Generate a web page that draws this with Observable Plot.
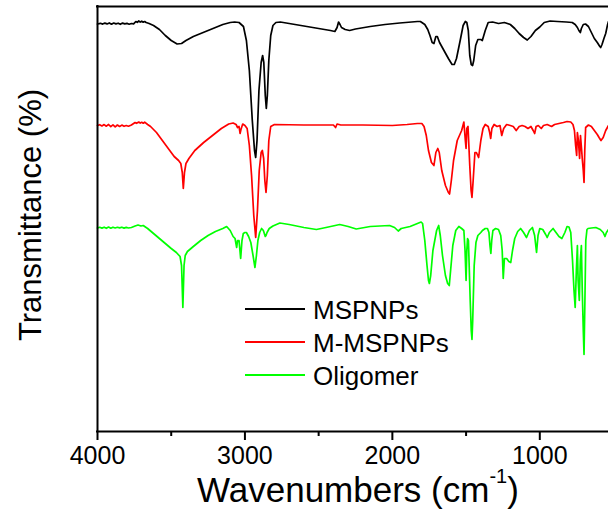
<!DOCTYPE html>
<html><head><meta charset="utf-8">
<script src="https://cdn.jsdelivr.net/npm/d3@7"></script>
<script src="https://cdn.jsdelivr.net/npm/@observablehq/plot@0.6"></script>
<style>body{margin:0;background:#fff}</style>
</head><body><div id="chart"></div>
<script>
// [wavenumber (cm-1), transmittance (a.u., offset spectra)]
const mspnps = [
[4000,407.5],[3980,408.2],[3965,407.4],[3950,408.4],[3935,407.6],[3920,408.6],[3905,407.3],[3890,408.5],[3875,407.6],[3860,408.3],[3845,407.2],[3830,408.4],[3815,407.6],[3800,408.1],[3785,407.3],[3770,408],[3755,407.6],
[3740,410],[3730,409.2],[3720,410.5],[3710,409.4],[3700,410.3],[3690,409.3],[3680,410],[3670,409],[3650,408],[3620,406],[3580,402],[3540,396],[3500,391],[3460,387.5],[3430,388],
[3400,391],[3350,395],[3300,398],[3250,401],[3200,404],[3150,407],[3100,409],[3070,409.5],[3040,409],[3010,405],[2990,391],[2970,361],[2950,311],
[2935,281],[2927,274],[2918,291],[2905,341],[2890,369],[2880,376],[2872,369],[2862,336],[2855,323],[2848,336],[2838,371],[2825,396],[2810,406],
[2790,409],[2760,409.5],[2700,408],[2600,405.5],[2500,403],[2420,401],[2390,400],[2375,404],[2365,409.5],[2355,407],[2345,404],[2320,402],
[2290,401],[2250,402.5],[2150,405],[2050,407],[1950,408.5],[1870,409.5],[1830,410],[1810,410],[1780,407],[1760,402],[1745,396],[1730,389],
[1718,388],[1705,395],[1695,395],[1680,389],[1650,381],[1620,373],[1595,367],[1580,367],[1565,373],[1540,391],[1520,406],[1505,410],[1495,409],
[1485,401],[1475,376],[1465,367],[1456,366],[1448,371],[1435,386],[1420,392],[1400,392],[1390,391],[1370,401],[1350,409],[1320,409.5],[1280,408],
[1240,409],[1200,407],[1170,403],[1140,398],[1110,394],[1085,391.5],[1060,395],[1030,401],[1000,404.5],[970,409],[930,410.5],[880,410],[820,409.5],
[780,409],[760,407],[745,404],[735,401],[725,399],[718,403],[705,407],[690,407.5],[670,405],[650,399],[630,393],[610,389],[595,385.5],[587,384],
[578,387],[565,393],[553,398],[540,407],[534,410]
];
const mMspnps = [
[4000,306],[3985,306.8],[3970,305.6],[3955,306.9],[3940,305.3],[3925,307],[3910,304.8],[3895,306.7],[3880,304.6],[3865,306.5],[3850,305],[3835,306.4],[3820,305.2],[3805,306],[3790,305.3],[3770,306.5],
[3745,309],[3735,308.2],[3720,309.5],[3710,308.4],[3700,309.2],[3690,308.3],[3680,309.3],[3660,307],[3640,305],[3600,299],[3560,291],[3520,283],[3480,275],[3450,271],[3435,268],
[3425,259],[3418,243],[3410,259],[3400,268],[3380,273],[3340,281],[3280,289],[3220,296],[3160,303],[3110,307.5],[3080,308.5],[3060,307],
[3050,304],[3040,305],[3033,298],[3027,302],[3015,307.5],[3000,306],[2985,303],[2970,286],[2955,256],[2940,216],[2927,194],[2915,221],[2903,261],
[2890,279],[2882,281],[2873,273],[2865,251],[2857,239],[2848,256],[2838,291],[2825,305],[2800,307],[2600,306.5],[2400,306.5],[2385,304],
[2375,307.5],[2350,306.5],[2200,306.5],[2000,306],[1900,307],[1830,308],[1800,308],[1785,305],[1770,296],[1755,281],[1735,269],[1718,266],
[1705,279],[1692,283],[1682,279],[1665,261],[1640,246],[1620,239],[1612,237.5],[1600,251],[1585,271],[1560,291],[1530,301],[1515,309.5],
[1505,291],[1500,283],[1495,303],[1487,305],[1475,266],[1466,241],[1460,234],[1452,251],[1440,279],[1430,279],[1415,274],[1400,291],[1385,303],
[1370,307],[1350,305],[1340,299],[1333,293],[1325,303],[1310,307],[1290,305],[1270,306],[1258,296],[1245,303],[1225,307],[1200,306],[1180,305],
[1160,301],[1140,305],[1120,306],[1100,305],[1080,303],[1060,305],[1045,301],[1035,298],[1025,305],[1010,306],[990,303],[975,306],[950,307],
[920,305],[900,307],[870,308],[840,309],[815,310],[790,309.5],[775,307],[765,301],[757,286],[750,276],[745,299],[738,291],[730,273],[724,296],
[716,281],[711,271],[705,261],[700,249],[695,281],[689,304],[670,306.5],[650,305],[630,301],[610,297],[598,294],[585,291],[570,294],[553,301],[534,306]
];
const oligomer = [
[4000,203.5],[3985,204.2],[3970,203.4],[3955,204.3],[3940,203.2],[3925,204.4],[3910,203.3],[3895,204.3],[3880,203.5],[3865,204.2],[3850,203.6],[3835,204.3],[3820,203.4],[3805,204.1],[3790,203.5],[3770,204],
[3745,205.5],[3725,206.5],[3705,205.5],[3690,206],[3660,203],[3620,198],[3580,193],[3540,188],[3500,183],[3465,179],[3440,175],[3430,166],
[3421,124],[3413,166],[3405,176],[3390,180],[3350,185],[3300,191],[3250,196],[3200,200],[3150,203],[3124,205],[3100,201],[3080,195],[3067,193],
[3056,184],[3050,191],[3040,191],[3029,173],[3020,191],[3011,198],[3000,199],[2990,199],[2975,195],[2960,189],[2945,176],[2932,164],[2922,176],
[2912,191],[2900,199],[2887,203],[2875,201],[2862,195],[2857,196],[2850,199],[2835,203],[2810,205.5],[2763,208.5],[2700,207],[2600,204],
[2515,202],[2450,204],[2357,207],[2300,205],[2245,202.5],[2150,205],[2019,206],[1985,204],[1960,200.5],[1940,203],[1880,205],[1830,208],
[1805,209.5],[1795,208],[1780,191],[1765,166],[1755,151],[1749,148],[1740,156],[1725,181],[1700,201],[1686,206],[1675,196],[1660,176],[1640,156],
[1625,148],[1614,146],[1605,161],[1590,186],[1570,201],[1549,205],[1530,203],[1515,201],[1507,181],[1500,151],[1495,181],[1490,193],[1484,191],
[1472,131],[1465,101],[1460,92],[1455,111],[1445,166],[1433,189],[1420,196],[1400,199],[1389,201],[1370,203],[1355,203],[1345,199],[1338,186],
[1332,178],[1326,191],[1318,201],[1300,203],[1280,202],[1265,196],[1255,181],[1248,153],[1240,173],[1225,173],[1210,170],[1197,169],[1185,181],
[1170,193],[1150,200],[1130,203],[1110,199],[1090,194],[1070,201],[1050,204],[1035,196],[1022,179],[1012,196],[1000,203],[980,202],[960,197],
[950,194],[935,199],[910,203],[890,199],[870,195],[850,193],[830,199],[815,205],[802,204.5],[790,199],[778,171],[768,141],[760,124],[752,161],
[745,186],[740,151],[732,131],[725,171],[718,186],[712,141],[705,101],[700,77],[694,131],[688,191],[680,202],[673,203],[650,203.5],[620,204],
[590,202],[570,199],[558,195],[548,199],[534,202]
];

const seriesNames = ["MSPNPs", "M-MSPNPs", "Oligomer"];
const seriesColors = ["#000000", "#ff0000", "#00ff00"];
const majorTicks = [4000, 3000, 2000, 1000];
const minorTicks = [3500, 2500, 1500];
const xLabelMain = "Wavenumbers (cm";
const xLabelSup = "-1";
const xLabelEnd = ")";
const yLabel = "Transmittance (%)";

const seriesData = [mspnps, mMspnps, oligomer];
const rows = [];
// draw order: Oligomer first, MSPNPs on top
[2, 1, 0].forEach(i => seriesData[i].forEach(([w, t]) => rows.push({series: seriesNames[i], w, t})));

const font = "'Liberation Sans', Arial, sans-serif";
const chart = Plot.plot({
  width: 608, height: 517,
  marginLeft: 97, marginRight: 0, marginTop: 6, marginBottom: 86,
  style: {fontFamily: font, background: "white", color: "black", overflow: "visible"},
  x: {domain: [4000, 534]},
  y: {domain: [0, 425], axis: null},
  color: {domain: seriesNames, range: seriesColors},
  marks: [
    Plot.line(rows, {x: "w", y: "t", z: "series", stroke: "series", strokeWidth: 1.7}),
    Plot.ruleX([4000], {stroke: "black", strokeWidth: 2, strokeLinecap: "square"}),
    Plot.ruleY([0, 425], {stroke: "black", strokeWidth: 2, strokeLinecap: "square"}),
    Plot.axisX(majorTicks, {tickSize: 9, tickPadding: 6, strokeWidth: 2, stroke: "black", fill: "black", tickFormat: d3.format("d"), fontSize: 25, label: null}),
    Plot.axisX(minorTicks, {tickSize: 5, strokeWidth: 2, stroke: "black", tickFormat: () => "", label: null})
  ]
});
document.getElementById("chart").appendChild(chart);

const svg = d3.select(chart);
// x label with superscript
const xt = svg.append("text").attr("x", 197).attr("y", 502).attr("text-anchor", "start")
  .attr("font-family", font).attr("font-size", 35).attr("fill", "black");
xt.append("tspan").text(xLabelMain);
xt.append("tspan").attr("dy", -19).attr("font-size", 20).text(xLabelSup);
xt.append("tspan").attr("dy", 19).text(xLabelEnd);
// y label
svg.append("text").attr("transform", "translate(41,215) rotate(-90)")
  .attr("text-anchor", "middle").attr("font-family", font).attr("font-size", 31).attr("fill", "black")
  .text(yLabel);
// legend
const lg = svg.append("g");
seriesNames.forEach((name, i) => {
  const y = 309 + i * 33;
  lg.append("line").attr("x1", 245).attr("x2", 305).attr("y1", y).attr("y2", y)
    .attr("stroke", seriesColors[i]).attr("stroke-width", 2);
  lg.append("text").attr("x", 313).attr("y", y + 9.5).attr("text-anchor", "start").attr("font-family", font)
    .attr("font-size", 26).attr("fill", "black").text(name);
});
</script>
</body></html>
